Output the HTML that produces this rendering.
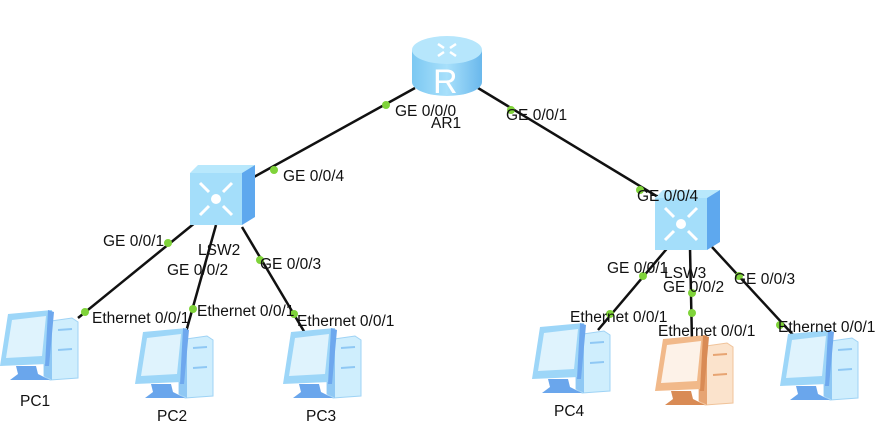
<!DOCTYPE html>
<html><head><meta charset="utf-8"><style>
html,body{margin:0;padding:0;background:#fff;}
svg{display:block;}
text{font-family:"Liberation Sans",sans-serif;font-size:15.5px;fill:#111;}
</style></head><body>
<svg width="890" height="441" viewBox="0 0 890 441" xmlns="http://www.w3.org/2000/svg">
<defs>
<linearGradient id="rg" x1="0" x2="1"><stop offset="0" stop-color="#7cc8f2"/><stop offset="0.5" stop-color="#a8e0fb"/><stop offset="1" stop-color="#6ab8ec"/></linearGradient>
<g id="pc">
  <polygon points="44,12 72,8 78,12 78,68 50,70 44,66" fill="#cfeefd" stroke="#9fd3f5"/>
  <polygon points="44,12 52,12 52,70 44,66" fill="#8fc8f4"/>
  <line x1="58" y1="20" x2="72" y2="19" stroke="#8fc8f4" stroke-width="2"/>
  <line x1="58" y1="40" x2="72" y2="39" stroke="#8fc8f4" stroke-width="2"/>
  <polygon points="8,4 52,0 47,54 0,56" fill="#9dd6f8"/>
  <polygon points="12,10 46,6 42,46 6,48" fill="#dff3fd"/>
  <polygon points="48,0 54,2 49,56 45,56" fill="#6ea8ee"/>
  <polygon points="16,56 36,56 38,64 50,70 10,70 18,64" fill="#6aa6ec"/>
</g>
<g id="pco">
  <polygon points="44,12 72,8 78,12 78,68 50,70 44,66" fill="#fbe3cc" stroke="#f0c39a"/>
  <polygon points="44,12 52,12 52,70 44,66" fill="#e7a472"/>
  <line x1="58" y1="20" x2="72" y2="19" stroke="#e7a472" stroke-width="2"/>
  <line x1="58" y1="40" x2="72" y2="39" stroke="#e7a472" stroke-width="2"/>
  <polygon points="8,4 52,0 47,54 0,56" fill="#f1b98a"/>
  <polygon points="12,10 46,6 42,46 6,48" fill="#fdf2e8"/>
  <polygon points="48,0 54,2 49,56 45,56" fill="#d98b55"/>
  <polygon points="16,56 36,56 38,64 50,70 10,70 18,64" fill="#d98b55"/>
</g>
<g id="sw">
  <polygon points="0,8 8,0 65,0 52,8" fill="#b8e8fc"/>
  <rect x="0" y="8" width="52" height="52" fill="#a4defa"/>
  <polygon points="52,8 65,0 65,52 52,60" fill="#5ea8ee"/>
  <circle cx="26" cy="34" r="5" fill="#fff"/>
  <g stroke="#fff" stroke-width="3" fill="none">
    <path d="M10,18 L19,27 M10,50 L19,41 M42,18 L33,27 M42,50 L33,41"/>
  </g>
</g>
</defs>
<g stroke="#111" stroke-width="2.5">
<line x1="415" y1="88" x2="252" y2="178"/>
<line x1="478" y1="88" x2="668" y2="203"/>
<line x1="196" y1="222" x2="78" y2="318"/>
<line x1="216" y1="225" x2="186" y2="332"/>
<line x1="242" y1="227" x2="305" y2="333"/>
<line x1="670" y1="245" x2="598" y2="330"/>
<line x1="690" y1="248" x2="692" y2="342"/>
<line x1="712" y1="247" x2="795" y2="337"/>
</g>
<path d="M412,50 L412,82 A35,14 0 0 0 482,82 L482,50 Z" fill="url(#rg)"/>
<ellipse cx="447" cy="50" rx="35" ry="14" fill="#b6e6fc"/>
<text x="433" y="93" style="font-size:34px;fill:#fff">R</text>
<g stroke="#fff" stroke-width="2.5"><path d="M438,44 l6,4 M456,44 l-6,4 M438,56 l6,-4 M456,56 l-6,-4"/></g>
<use href="#sw" x="190" y="165"/>
<use href="#sw" x="655" y="190"/>
<use href="#pc" x="0" y="310"/>
<use href="#pc" x="135" y="328"/>
<use href="#pc" x="283" y="328"/>
<use href="#pc" x="532" y="323"/>
<use href="#pco" x="655" y="335"/>
<use href="#pc" x="780" y="330"/>
<g fill="#7fd33a">
<circle cx="386" cy="105" r="4"/><circle cx="274" cy="170" r="4"/>
<circle cx="511" cy="110" r="4"/><circle cx="640" cy="190" r="4"/>
<circle cx="168" cy="243" r="4"/><circle cx="85" cy="312" r="4"/>
<circle cx="193" cy="309" r="4"/><circle cx="260" cy="260" r="4"/>
<circle cx="294" cy="314" r="4"/>
<circle cx="643" cy="276" r="4"/><circle cx="692" cy="293" r="4"/>
<circle cx="692" cy="313" r="4"/><circle cx="739" cy="276" r="4"/>
<circle cx="780" cy="325" r="4"/><circle cx="610" cy="314" r="4"/>
</g>
<text x="395" y="116">GE 0/0/0</text>
<text x="431" y="128">AR1</text>
<text x="506" y="120">GE 0/0/1</text>
<text x="283" y="181">GE 0/0/4</text>
<text x="637" y="201">GE 0/0/4</text>
<text x="103" y="246">GE 0/0/1</text>
<text x="198" y="255">LSW2</text>
<text x="167" y="275">GE 0/0/2</text>
<text x="260" y="269">GE 0/0/3</text>
<text x="92" y="323">Ethernet 0/0/1</text>
<text x="197" y="316">Ethernet 0/0/1</text>
<text x="297" y="326">Ethernet 0/0/1</text>
<text x="20" y="406">PC1</text>
<text x="157" y="421">PC2</text>
<text x="306" y="421">PC3</text>
<text x="607" y="273">GE 0/0/1</text>
<text x="664" y="278">LSW3</text>
<text x="663" y="292">GE 0/0/2</text>
<text x="734" y="284">GE 0/0/3</text>
<text x="570" y="322">Ethernet 0/0/1</text>
<text x="658" y="336">Ethernet 0/0/1</text>
<text x="778" y="332">Ethernet 0/0/1</text>
<text x="554" y="416">PC4</text>
</svg>
</body></html>
